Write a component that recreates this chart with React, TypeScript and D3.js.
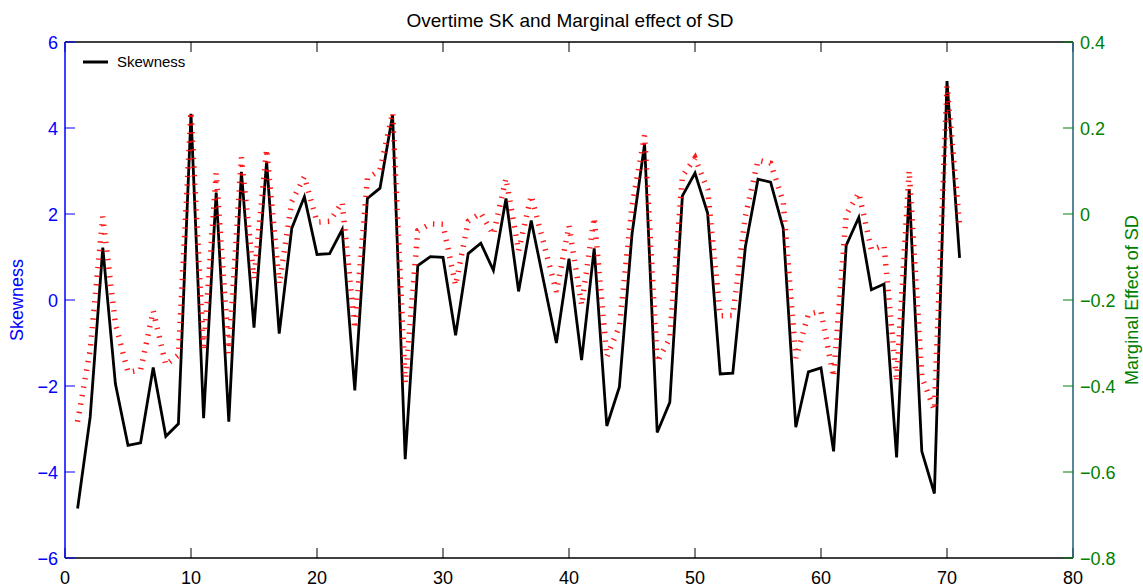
import React from "react";
import * as d3 from "d3";

const xs: number[] = Array.from({ length: 71 }, (_, i) => i + 1);

const skewness: number[] = [
  -4.85, -2.72, 1.22, -1.95, -3.38, -3.32, -1.57, -3.17, -2.88, 4.33,
  -2.75, 2.5, -2.83, 2.98, -0.64, 3.22, -0.78, 1.67, 2.4, 1.06,
  1.08, 1.64, -2.1, 2.36, 2.6, 4.3, -3.7, 0.8, 1.01, 0.99,
  -0.82, 1.08, 1.32, 0.69, 2.36, 0.2, 1.85, 0.42, -1.0, 0.96,
  -1.4, 1.2, -2.93, -2.02, 1.53, 3.63, -3.08, -2.38, 2.42, 2.95,
  2.02, -1.72, -1.7, 1.24, 2.81, 2.74, 1.67, -2.96, -1.67, -1.58,
  -3.52, 1.27, 1.92, 0.24, 0.37, -3.66, 2.58, -3.52, -4.5, 5.09,
  0.98,
];

const marginalSD: number[] = [
  -0.483, -0.316, -0.006, -0.255, -0.368, -0.363, -0.225, -0.351, -0.328, 0.238,
  -0.318, 0.095, -0.324, 0.132, -0.152, 0.151, -0.163, 0.029, 0.087, -0.019,
  -0.017, 0.027, -0.267, 0.083, 0.102, 0.236, -0.393, -0.039, -0.023, -0.024,
  -0.166, -0.017, 0.002, -0.048, 0.083, -0.086, 0.043, -0.069, -0.181, -0.027,
  -0.212, -0.008, -0.332, -0.261, 0.018, 0.183, -0.344, -0.289, 0.088, 0.13,
  0.057, -0.237, -0.236, -0.005, 0.125, 0.118, 0.029, -0.335, -0.233, -0.226,
  -0.379, -0.002, 0.049, -0.083, -0.073, -0.39, 0.101, -0.379, -0.456, 0.298,
  -0.025,
];

const xTicks: number[] = [0, 10, 20, 30, 40, 50, 60, 70, 80];
const leftTicks: number[] = [-6, -4, -2, 0, 2, 4, 6];
const rightTicks: number[] = [-0.8, -0.6, -0.4, -0.2, 0, 0.2, 0.4];

const W = 1143;
const H = 587;
const L = 65;
const R = 1073;
const T = 42;
const B = 558;
const FONT = "'Liberation Sans', Arial, Helvetica, sans-serif";

const fmt = (v: number) => {
  const s = v === 0 ? "0" : String(Math.abs(v));
  return v < 0 ? "\u2212" + s : s;
};

export default function App() {
  const x = d3.scaleLinear().domain([0, 80]).range([L, R]);
  const yL = d3.scaleLinear().domain([-6, 6]).range([B, T]);
  const yR = d3.scaleLinear().domain([-0.8, 0.4]).range([B, T]);

  const lineL = d3
    .line<number>()
    .x((_, i) => x(xs[i]))
    .y((d) => yL(d));
  const lineR = d3
    .line<number>()
    .x((_, i) => x(xs[i]))
    .y((d) => yR(d));

  const blue = "#0000ff";
  const green = "#008000";
  const tickLen = 10;

  return (
    <svg
      width={W}
      height={H}
      style={{ position: "absolute", left: 0, top: 0, background: "#fff" }}
      fontFamily={FONT}
    >
      <rect x={0} y={0} width={W} height={H} fill="#fff" />
      {/* title */}
      <text x={570} y={27} textAnchor="middle" fontSize={19} fill="#000">
        Overtime SK and Marginal effect of SD
      </text>

      {/* data */}
      <path d={lineL(skewness) || ""} fill="none" stroke="#000" strokeWidth={2.8} strokeLinejoin="miter" />
      <path
        d={lineR(marginalSD) || ""}
        fill="none"
        stroke="#ff0000"
        strokeOpacity={0.9}
        strokeWidth={5.5}
        strokeDasharray="1.4 7.2"
      />

      {/* top border */}
      <line x1={L} x2={R} y1={T} y2={T} stroke="#000" strokeWidth={1.5} />
      {/* bottom axis */}
      <line x1={L} x2={R} y1={B} y2={B} stroke="#000" strokeWidth={1.5} />
      {xTicks.map((t) => (
        <g key={"xt" + t}>
          <line x1={x(t)} x2={x(t)} y1={B} y2={B - tickLen} stroke="#000" strokeWidth={1} />
          <line x1={x(t)} x2={x(t)} y1={T} y2={T + tickLen} stroke="#000" strokeWidth={1} />
          <text x={x(t)} y={584} textAnchor="middle" fontSize={18} fill="#000">
            {fmt(t)}
          </text>
        </g>
      ))}

      {/* left axis */}
      <line x1={L} x2={L} y1={T} y2={B} stroke={blue} strokeWidth={1.5} />
      {leftTicks.map((t) => (
        <g key={"lt" + t}>
          <line x1={L} x2={L + tickLen} y1={yL(t)} y2={yL(t)} stroke={blue} strokeWidth={1} />
          <text x={58} y={yL(t) + 6.5} textAnchor="end" fontSize={18} fill={blue}>
            {fmt(t)}
          </text>
        </g>
      ))}
      <text
        transform={`translate(23,${(T + B) / 2}) rotate(-90)`}
        textAnchor="middle"
        fontSize={18}
        fill={blue}
      >
        Skewness
      </text>

      {/* right axis */}
      <line x1={R} x2={R} y1={T} y2={B} stroke="#1e5f78" strokeWidth={1.5} />
      {rightTicks.map((t) => (
        <g key={"rt" + t}>
          <line x1={R - tickLen} x2={R} y1={yR(t)} y2={yR(t)} stroke={green} strokeWidth={1} />
          <text x={1080} y={yR(t) + 6.5} textAnchor="start" fontSize={18} fill={green}>
            {fmt(Math.round(t * 10) / 10)}
          </text>
        </g>
      ))}
      <text
        transform={`translate(1138,${(T + B) / 2}) rotate(-90)`}
        textAnchor="middle"
        fontSize={18}
        fill={green}
      >
        Marginal Effect of SD
      </text>

      {/* legend */}
      <line x1={83} x2={108} y1={62} y2={62} stroke="#000" strokeWidth={3} />
      <text x={117} y={67} fontSize={15} fill="#000">
        Skewness
      </text>
    </svg>
  );
}
